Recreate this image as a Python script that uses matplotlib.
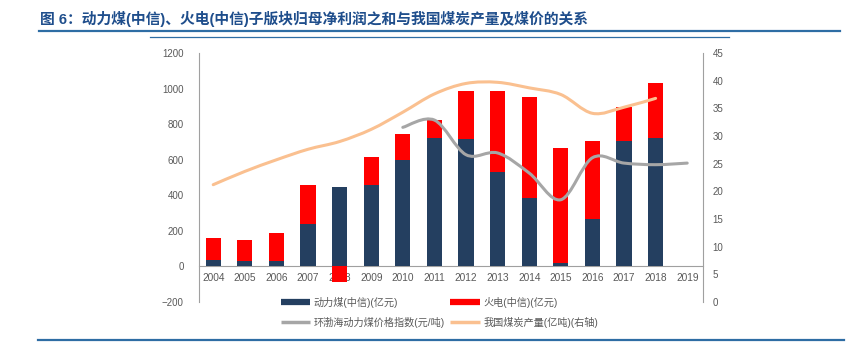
import matplotlib.pyplot as plt
import numpy as np
from matplotlib.lines import Line2D
from matplotlib.path import Path
from matplotlib.patches import PathPatch

plt.rcParams["font.family"] = ["Liberation Sans", "Noto Sans CJK SC", "DejaVu Sans"]

# ---------------------------------------------------------------------------
# Data
# ---------------------------------------------------------------------------
YEARS = [str(y) for y in range(2004, 2020)]

# 动力煤(中信) net profit, 亿元 (2019 not available)
COAL_PROFIT = [35, 28, 28, 239, 449, 456, 600, 720, 714, 529, 385, 17, 265, 703, 723]
# 火电(中信) net profit, 亿元
POWER_PROFIT = [126, 120, 161, 217, -88, 157, 144, 104, 275, 458, 567, 649, 438, 194, 309]

# 环渤海动力煤价格指数 (元/吨), 2010-2019
PRICE_YEARS = YEARS[6:]
PRICE_INDEX = [782, 823, 628, 638, 525, 375, 611, 581, 572, 581]

# 我国煤炭产量 (亿吨), 2004-2018, right axis
OUTPUT_YEARS = YEARS[:15]
COAL_OUTPUT = [21.2, 23.6, 25.7, 27.6, 29.0, 31.2, 34.3, 37.6, 39.5, 39.7, 38.7, 37.5, 34.1, 35.2, 36.8]

NAVY = "#243F60"
RED = "#FF0000"
GRAY = "#A6A6A6"
ORANGE = "#FAC090"
TEXT = "#595959"
BLUE = "#2E6DA4"


def smooth_path(xs, ys):
    """Excel-like smoothed line: cubic Bezier segments through every point."""
    pts = np.column_stack([xs, ys]).astype(float)
    n = len(pts)
    verts = [pts[0]]
    codes = [Path.MOVETO]
    for i in range(n - 1):
        p0 = pts[i - 1] if i > 0 else pts[i]
        p1 = pts[i]
        p2 = pts[i + 1]
        p3 = pts[i + 2] if i + 2 < n else pts[i + 1]
        c1 = p1 + (p2 - p0) / 6.0
        c2 = p2 - (p3 - p1) / 6.0
        verts += [c1, c2, p2]
        codes += [Path.CURVE4] * 3
    return Path(verts, codes)


fig = plt.figure(figsize=(8.61, 3.5), dpi=100)
W, H = 861, 350

ax = fig.add_axes([199 / W, 1 - 302 / H, (703 - 199) / W, (302 - 53) / H])
ax2 = ax.twinx()

x = np.arange(len(YEARS))
xb = x[: len(COAL_PROFIT)]
coal = np.array(COAL_PROFIT)
power = np.array(POWER_PROFIT)
# negative values stack downward from zero, positive ones on top of coal
power_bottom = np.where(power >= 0, coal, 0)

ax.bar(xb, coal, width=0.48, color=NAVY, zorder=3)
ax.bar(xb, power, width=0.48, bottom=power_bottom, color=RED, zorder=3)

px = [YEARS.index(y) for y in PRICE_YEARS]
ax.add_patch(PathPatch(smooth_path(px, PRICE_INDEX), fill=False,
                       edgecolor=GRAY, lw=2.2, capstyle="round", zorder=4))

ox = [YEARS.index(y) for y in OUTPUT_YEARS]
ax2.add_patch(PathPatch(smooth_path(ox, COAL_OUTPUT), fill=False,
                        edgecolor=ORANGE, lw=2.2, capstyle="round", zorder=4))

ax.set_xlim(-0.45, len(YEARS) - 0.5)
ax.set_ylim(-200, 1200)
ax.set_yticks(np.arange(-200, 1201, 200))
ax2.set_ylim(0, 45)
ax2.set_yticks(np.arange(0, 46, 5))

ax.set_xticks(x)
ax.set_xticklabels(YEARS)
ax.spines["bottom"].set_position(("data", 0))
ax.spines["bottom"].set_color("#A0A0A0")
ax.spines["bottom"].set_zorder(2)
ax.spines["left"].set_color("#A0A0A0")
ax2.spines["right"].set_color("#A0A0A0")
for a in (ax, ax2):
    a.spines["top"].set_visible(False)
    a.set_facecolor("none")
ax2.spines["bottom"].set_visible(False)
ax2.spines["left"].set_visible(False)
ax.spines["right"].set_visible(False)

ax.tick_params(axis="x", length=0, pad=5, labelsize=7.3, labelcolor=TEXT)
ax.tick_params(axis="y", length=0, pad=11, labelsize=7.0, labelcolor=TEXT)
ax2.tick_params(axis="y", length=0, pad=7, labelsize=7.0, labelcolor=TEXT)

handles = [
    Line2D([], [], color=NAVY, lw=4.5, solid_capstyle="butt"),
    Line2D([], [], color=GRAY, lw=2.5, solid_capstyle="butt"),
    Line2D([], [], color=RED, lw=4.5, solid_capstyle="butt"),
    Line2D([], [], color=ORANGE, lw=2.5, solid_capstyle="butt"),
]
labels = ["动力煤(中信)(亿元)", "环渤海动力煤价格指数(元/吨)",
          "火电(中信)(亿元)", "我国煤炭产量(亿吨)(右轴)"]
fig.legend(handles, labels, ncol=2, loc="upper left",
           bbox_to_anchor=(281 / W, 1 - 297 / H), frameon=False,
           fontsize=7.3, handlelength=2.9, handletextpad=0.35,
           columnspacing=0.5, borderpad=0, borderaxespad=0,
           labelspacing=0.85, labelcolor=TEXT)

fig.text(40 / W, 1 - 19 / H,
         "图 6：动力煤(中信)、火电(中信)子版块归母净利润之和与我国煤炭产量及煤价的关系",
         fontsize=10.65, fontweight="bold", color="#1F4E8C", va="center", ha="left")

fig.add_artist(Line2D([39 / W, 840 / W], [1 - 31 / H, 1 - 31 / H], color=BLUE, lw=1.6))
fig.add_artist(Line2D([150 / W, 729 / W], [1 - 37 / H, 1 - 37 / H], color=BLUE, lw=0.9))
fig.add_artist(Line2D([38 / W, 844 / W], [1 - 340 / H, 1 - 340 / H], color=BLUE, lw=1.6))

fig.savefig("out.png", dpi=100, facecolor="white")
